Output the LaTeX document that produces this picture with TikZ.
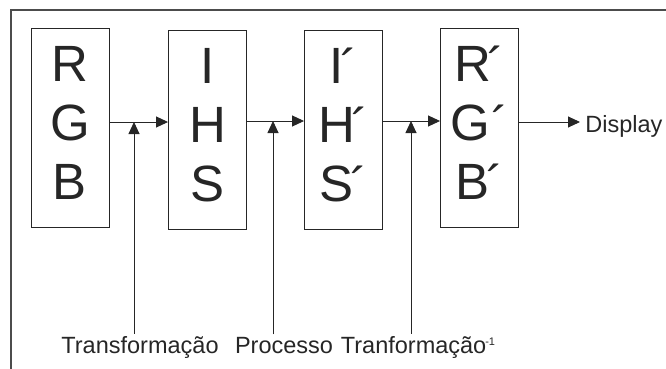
\documentclass[tikz,border=0pt]{standalone}
\usepackage{fontspec}
\setmainfont{Liberation Sans}
\usetikzlibrary{arrows.meta}

\newcommand{\pr}{\kern-3pt\raisebox{-2pt}{´}}

\begin{document}
\begin{tikzpicture}[x=1pt,y=-1pt,
            every node/.style={inner sep=0pt},
            every path/.style={line width=0.9pt,color=black!85},
            band/.style={draw,minimum width=78pt,minimum height=199pt,
              align=center,text depth=9pt,
              font=\fontsize{51}{59}\selectfont},
            feed/.style={-{Triangle[length=12pt,width=11pt]}},
            lbl/.style={anchor=base,font=\fontsize{23.5}{24}\selectfont}
            ]
            \useasboundingbox (0,0) rectangle (666,369);
            \draw[line width=1.2pt,black!70] (11,369) -- (11,10) -- (666,10);
            % colour spaces
            \node[band] (rgb) at (70,127.5) {R\\G\\B};
            \node[band] (ihs) at (207.5,129.5) {I\\H\\S};
            \node[band] (ihsl) at (343.5,129.5) {I\pr\\H\pr\\S\pr};
            \node[band] (rgbl) at (479.5,127.5) {R\pr\\G\kern1pt\raisebox{-2pt}{´}\\B\pr};
            % junctions on the flow
            \coordinate (j1) at (134,122);
            \coordinate (j2) at (273,121);
            \coordinate (j3) at (411,121);
            \coordinate (j4) at (580,122);
            \draw[feed] (rgb.east |- j1) -- (ihs.west |- j1);
            \draw[feed] (ihs.east |- j2) -- (ihsl.west |- j2);
            \draw[feed] (ihsl.east |- j3) -- (rgbl.west |- j3);
            \draw[feed] (rgbl.east |- j4) -- (j4);
            \node[anchor=base west,font=\fontsize{23.5}{24}\selectfont] (disp) at (585,132) {Display};
            % operations
            \node[lbl] (t1) at (140,353) {Transformação};
            \node[lbl] (t2) at (284,353) {Processo};
            \node[lbl] (t3) at (418,353) {Tranformação\kern-1pt\raisebox{8pt}{\fontsize{11}{11}\selectfont -1}};
            \draw[feed] ([yshift=2pt]t1.north -| j1) -- (j1);
            \draw[feed] ([yshift=2pt]t2.north -| j2) -- (j2);
            \draw[feed] ([yshift=2pt]t3.north -| j3) -- (j3);
        \end{tikzpicture}
\end{document}
